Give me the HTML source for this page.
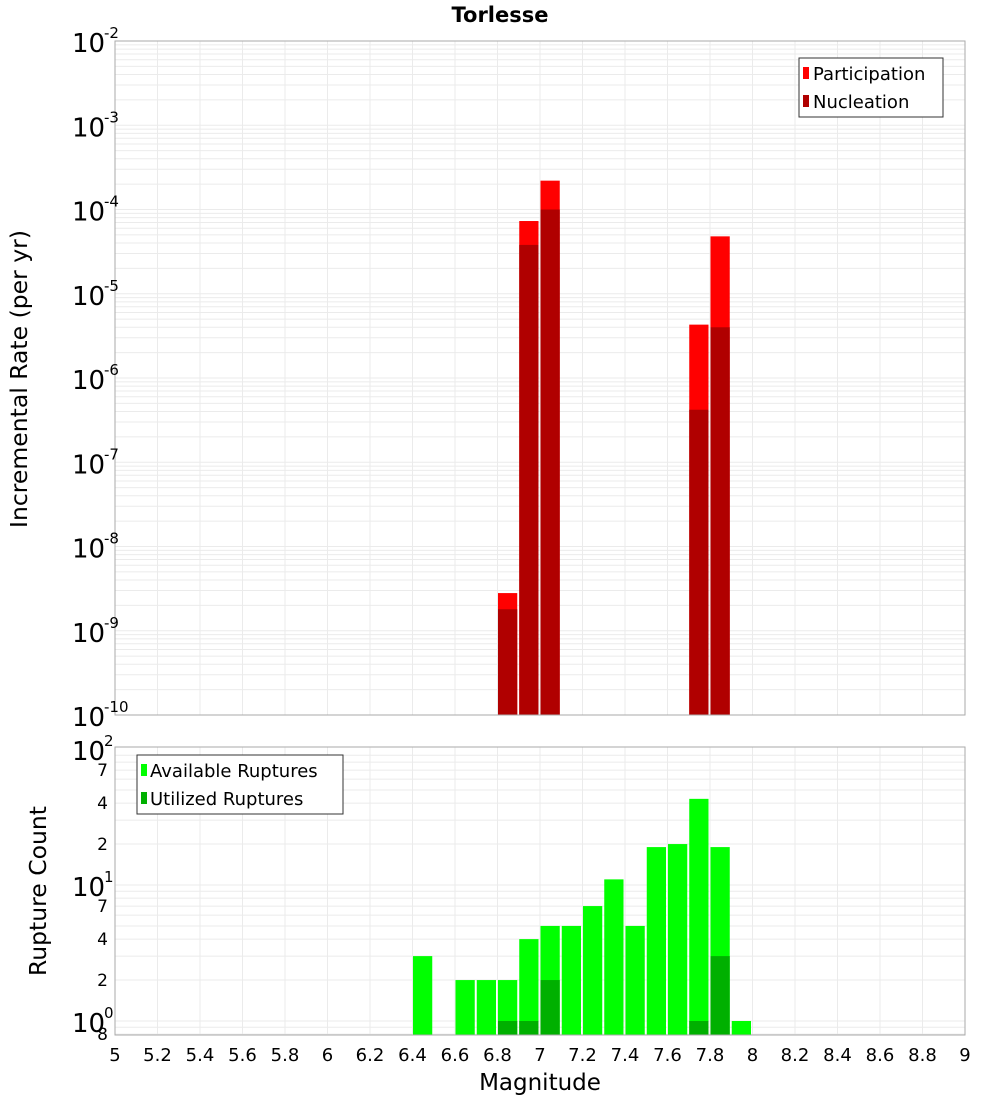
<!DOCTYPE html>
<html><head><meta charset="utf-8"><style>
body{margin:0;background:#fff;}
svg text{font-family:"DejaVu Sans","Liberation Sans",sans-serif;}
</style></head><body>
<svg id="chart" width="1000" height="1100" xmlns="http://www.w3.org/2000/svg">
<rect width="1000" height="1100" fill="#fff"/>
<g id="topPanel"></g><g id="botPanel"></g>
<text x="500" y="22" text-anchor="middle" font-size="21" font-weight="bold">Torlesse</text>
<text transform="translate(27,379) rotate(-90)" text-anchor="middle" font-size="23.5">Incremental Rate (per yr)</text>
<text transform="translate(46,891) rotate(-90)" text-anchor="middle" font-size="23.5">Rupture Count</text>
<text x="540" y="1090" text-anchor="middle" font-size="23">Magnitude</text>
</svg>
<script>
const rateMags=[6.8,6.9,7.0,7.7,7.8];
const participation=[2.8e-9,7.3e-5,2.2e-4,4.3e-6,4.8e-5];
const nucleation=[1.8e-9,3.8e-5,1.0e-4,4.2e-7,4.0e-6];
const countMags=[6.4,6.6,6.7,6.8,6.9,7.0,7.1,7.2,7.3,7.4,7.5,7.6,7.7,7.8,7.9];
const available=[3,2,2,2,4,5,5,7,11,5,19,20,43,19,1];
const utilMags=[6.8,6.9,7.0,7.7,7.8];
const utilized=[1,1,2,1,3];
const xTicks=[5,5.2,5.4,5.6,5.8,6,6.2,6.4,6.6,6.8,7,7.2,7.4,7.6,7.8,8,8.2,8.4,8.6,8.8,9];
const topDecades=[-10,-9,-8,-7,-6,-5,-4,-3,-2];
const botMinorLabels=[[70,"7"],[40,"4"],[20,"2"],[7,"7"],[4,"4"],[2,"2"],[0.8,"8"]];
const NS="http://www.w3.org/2000/svg";
const X0=115,X1=965;
const xS=m=>X0+(m-5)/4*(X1-X0);
const yT=v=>41+(-2-Math.log10(v))*84.25;
const yB=v=>1021-Math.log10(v)*136;
function el(p,t,a){const e=document.createElementNS(NS,t);for(const k in a)e.setAttribute(k,a[k]);p.appendChild(e);return e;}
const topG=document.getElementById('topPanel'),botG=document.getElementById('botPanel');
el(topG,'rect',{x:X0,y:41,width:X1-X0,height:674,fill:'#fff'});
for(let d=-10;d<-2;d++)for(let k=1;k<10;k++){const y=yT(k*Math.pow(10,d));const g=el(topG,'line',{x1:X0,x2:X1,y1:y,y2:y,stroke:'#ebebeb','stroke-width':1});}
for(const t of xTicks){const g=el(topG,'line',{x1:xS(t),x2:xS(t),y1:41,y2:715,stroke:'#ebebeb'});}
rateMags.forEach((m,i)=>{
 const b=el(topG,'rect',{x:xS(m)+0.5,y:yT(participation[i]),width:xS(m+0.1)-xS(m)-2,height:715-yT(participation[i]),fill:'#ff0000'});
 
 const n=el(topG,'rect',{x:xS(m)+0.5,y:yT(nucleation[i]),width:xS(m+0.1)-xS(m)-2,height:715-yT(nucleation[i]),fill:'#b00000'});
 
});
el(topG,'rect',{x:X0,y:41,width:X1-X0,height:674,fill:'none',stroke:'#aaa'});
topDecades.forEach(d=>{const y=yT(Math.pow(10,d));
 const t=el(topG,'text',{x:72,y:y+11,'font-size':26});t.textContent='10';
 const s=el(topG,'text',{x:104,y:y-3,'font-size':15});s.textContent=String(d);});
const lg=el(topG,'g',{});
el(lg,'rect',{x:799,y:58,width:144,height:59,fill:'#fff',stroke:'#333'});
el(lg,'rect',{x:803,y:67,width:6,height:12,fill:'#ff0000'});
el(lg,'rect',{x:803,y:95,width:6,height:12,fill:'#b00000'});
let t1=el(lg,'text',{x:813,y:80,'font-size':18});t1.textContent='Participation';
let t2=el(lg,'text',{x:813,y:108,'font-size':18});t2.textContent='Nucleation';
const BY0=747,BY1=1035;
for(let d=-1;d<2;d++)for(let k=1;k<10;k++){const v=k*Math.pow(10,d);const y=yB(v);if(y<BY0||y>BY1)continue;const g=el(botG,'line',{x1:X0,x2:X1,y1:y,y2:y,stroke:'#ebebeb'});}
for(const t of xTicks){const g=el(botG,'line',{x1:xS(t),x2:xS(t),y1:BY0,y2:BY1,stroke:'#ebebeb'});
 const l=el(botG,'text',{x:xS(t),y:1061,'font-size':18,'text-anchor':'middle'});l.textContent=String(t);}
countMags.forEach((m,i)=>{const b=el(botG,'rect',{x:xS(m)+0.5,y:yB(available[i]),width:xS(m+0.1)-xS(m)-2,height:BY1-yB(available[i]),fill:'#00ff00'});
 });
utilMags.forEach((m,i)=>{const b=el(botG,'rect',{x:xS(m)+0.5,y:yB(utilized[i]),width:xS(m+0.1)-xS(m)-2,height:BY1-yB(utilized[i]),fill:'#00b000'});
 });
el(botG,'rect',{x:X0,y:BY0,width:X1-X0,height:BY1-BY0,fill:'none',stroke:'#aaa'});
[0,1,2].forEach(d=>{const y=yB(Math.pow(10,d));
 const t=el(botG,'text',{x:72,y:y+11,'font-size':26});t.textContent='10';
 const s=el(botG,'text',{x:104,y:y-3,'font-size':15});s.textContent=String(d);});
botMinorLabels.forEach(([v,l])=>{const t=el(botG,'text',{x:108,y:yB(v)+6,'font-size':17,'text-anchor':'end'});t.textContent=l;});
const lb=el(botG,'g',{});
el(lb,'rect',{x:137,y:755,width:206,height:59,fill:'#fff',stroke:'#333'});
el(lb,'rect',{x:141,y:764,width:6,height:12,fill:'#00ff00'});
el(lb,'rect',{x:141,y:792,width:6,height:12,fill:'#00b000'});
let t3=el(lb,'text',{x:150,y:777,'font-size':18});t3.textContent='Available Ruptures';
let t4=el(lb,'text',{x:150,y:805,'font-size':18});t4.textContent='Utilized Ruptures';
</script>
</body></html>
